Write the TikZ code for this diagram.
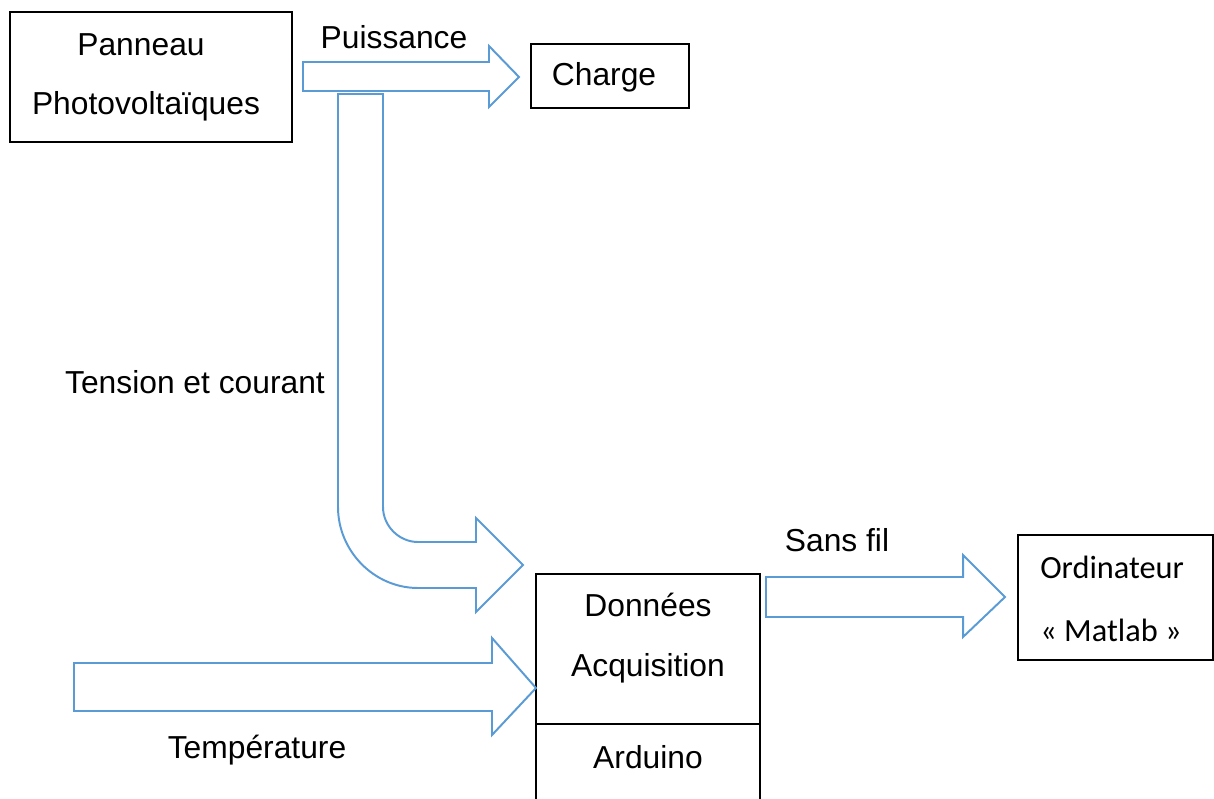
\documentclass[tikz,border=0pt]{standalone}
\usepackage{fontspec}
\setmainfont{Liberation Sans}
\newfontfamily\calibrifont{Carlito}
\definecolor{arrowblue}{RGB}{91,155,213}
\begin{document}
\begin{tikzpicture}[x=0.025cm,y=-0.025cm,
		box/.style={draw,line width=1.4pt,inner sep=0pt},
		lbl/.style={font=\fontsize{22.6}{27}\selectfont,inner sep=0pt},
		clbl/.style={font=\calibrifont\fontsize{23}{27}\selectfont,inner sep=0pt,anchor=west},
		blockarrow/.style={draw=arrowblue,line width=1.4pt,line join=miter}]
		\useasboundingbox (0,0) rectangle (1214,799);
		% boxes
		\node[box,minimum width=7.05cm,minimum height=3.25cm] (panneau) at (151,77) {};
		\node[lbl] (panneautxt) at (141,45) {Panneau};
		\node[lbl] (photovtxt) at (146,106) {Photovoltaïques};
		\node[box,minimum width=3.95cm,minimum height=1.6cm] (charge) at (610,76) {};
		\node[lbl] (chargetxt) at (604,77) {Charge};
		\draw[line width=1.4pt] (536,800) -- (536,574) -- (760,574) -- (760,800) (536,724) -- (760,724);
		\node[lbl] (donnees) at (648,605) {Données};
		\node[lbl] (acquis) at (648,668) {Acquisition};
		\node[lbl] (arduino) at (648,757) {Arduino};
		\node[box,minimum width=4.875cm,minimum height=3.125cm] (ordi) at (1115.5,597.5) {};
		\node[clbl] (ordtxt) at (1040,567) {Ordinateur};
		\node[clbl] (matlabtxt) at (1040,630) {« Matlab »};
		% block arrows
		\draw[blockarrow] (303,62) -- (489,62) -- (489,46) -- (519,77) -- (489,107) -- (489,91) -- (303,91) -- cycle;
		\draw[blockarrow] (338,94) -- (338,507) .. controls (338,551) and (374,588) .. (418,588) -- (476,588)
			-- (476,612) -- (523,565) -- (476,518) -- (476,542) -- (418,542)
			.. controls (399,542) and (383,526) .. (383,507) -- (383,94) -- cycle;
		\draw[blockarrow] (74,663) -- (492,663) -- (492,638) -- (536,688) -- (492,735) -- (492,711) -- (74,711) -- cycle;
		\draw[blockarrow] (766,577) -- (963,577) -- (963,555) -- (1005,597) -- (963,637) -- (963,617) -- (766,617) -- cycle;
		% labels
		\node[lbl] (puissance) at (394,37) {Puissance};
		\node[lbl] (tension) at (195,382) {Tension et courant};
		\node[lbl] (sansfil) at (837,540) {Sans fil};
		\node[lbl] (temp) at (257,750) {Température};
\end{tikzpicture}
\end{document}
